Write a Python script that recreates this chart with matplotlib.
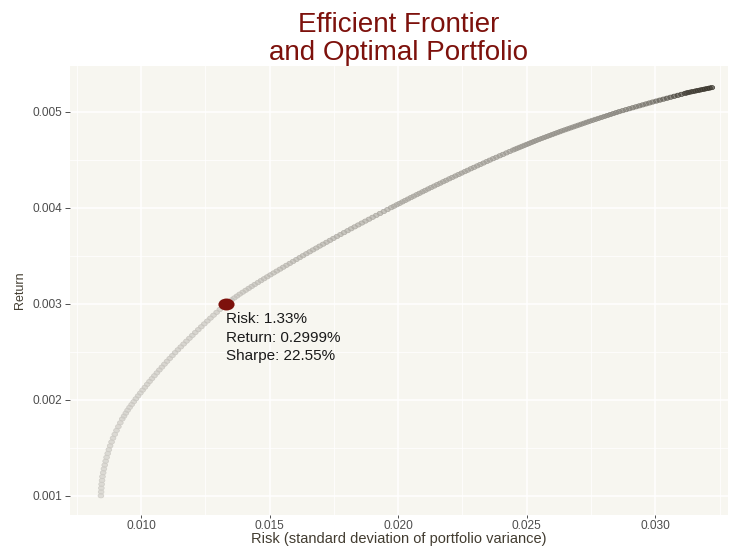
import numpy as np
from matplotlib import pyplot as plt
from matplotlib.colors import LinearSegmentedColormap, Normalize
from matplotlib.path import Path
from matplotlib.transforms import Affine2D
from matplotlib.ticker import FormatStrFormatter

EAL_RED = '#7D110C'
EAL_LIGHTTAN = '#F7F6F0'
EAL_DARK = '#423C30'

# efficient frontier (return, risk)
frontier_return = [
    0.00100, 0.00104, 0.00108, 0.00112, 0.00116, 0.00120, 0.00124, 0.00128, 0.00132, 0.00136,
    0.00140, 0.00144, 0.00148, 0.00152, 0.00156, 0.00160, 0.00164, 0.00168, 0.00172, 0.00176,
    0.00180,
    0.00183, 0.00186, 0.00189, 0.00192, 0.00195, 0.00198, 0.00201, 0.00204, 0.00207, 0.00210,
    0.00213, 0.00216, 0.00219, 0.00222, 0.00225, 0.00228, 0.00231, 0.00234, 0.00237, 0.00240,
    0.00243, 0.00246, 0.00249, 0.00252, 0.00255, 0.00258, 0.00261, 0.00264, 0.00267, 0.00270,
    0.00273, 0.00276, 0.00279, 0.00282, 0.00285, 0.00288, 0.00291, 0.00294, 0.00297, 0.00300,
    0.00302, 0.00304, 0.00306, 0.00308, 0.00310, 0.00312, 0.00314, 0.00316, 0.00318, 0.00320,
    0.00322, 0.00324, 0.00326, 0.00328, 0.00330, 0.00332, 0.00334, 0.00336, 0.00338, 0.00340,
    0.00342, 0.00344, 0.00346, 0.00348, 0.00350, 0.00352, 0.00354, 0.00356, 0.00358, 0.00360,
    0.00362, 0.00364, 0.00366, 0.00368, 0.00370, 0.00372, 0.00374, 0.00376, 0.00378, 0.00380,
    0.00382, 0.00384, 0.00386, 0.00388, 0.00390, 0.00392, 0.00394, 0.00396, 0.00398, 0.00400,
    0.004015, 0.004030, 0.004045, 0.004060, 0.004075, 0.004090, 0.004105, 0.004120, 0.004135, 0.004150,
    0.004165, 0.004180, 0.004195, 0.004210, 0.004225, 0.004240, 0.004255, 0.004270, 0.004285, 0.004300,
    0.004315, 0.004330, 0.004345, 0.004360, 0.004375, 0.004390, 0.004405, 0.004420, 0.004435, 0.004450,
    0.004465, 0.004480, 0.004495, 0.004510, 0.004525, 0.004540, 0.004555, 0.004570, 0.004585, 0.004600,
    0.00461, 0.00462, 0.00463, 0.00464, 0.00465, 0.00466, 0.00467, 0.00468, 0.00469, 0.00470,
    0.00471, 0.00472, 0.00473, 0.00474, 0.00475, 0.00476, 0.00477, 0.00478, 0.00479, 0.00480,
    0.00481, 0.00482, 0.00483, 0.00484, 0.00485, 0.00486, 0.00487, 0.00488, 0.00489, 0.00490,
    0.00491, 0.00492, 0.00493, 0.00494, 0.00495, 0.00496, 0.00497, 0.00498, 0.00499, 0.00500,
    0.00501, 0.00502, 0.00503, 0.00504, 0.00505, 0.00506, 0.00507, 0.00508, 0.00509, 0.00510,
    0.00511, 0.00512, 0.00513, 0.00514, 0.00515, 0.00516, 0.00517, 0.00518, 0.00519,
    0.005195, 0.005200, 0.005205, 0.005210, 0.005215, 0.005220, 0.005225, 0.005230, 0.005235, 0.005240,
    0.005245, 0.005250,
]
frontier_risk = [
    0.008440, 0.008448, 0.008456, 0.008468, 0.008484, 0.008500, 0.008528, 0.008556, 0.008588, 0.008624,
    0.008660, 0.008704, 0.008748, 0.008798, 0.008854, 0.008910, 0.008978, 0.009046, 0.009118, 0.009194,
    0.009270,
    0.009339, 0.009408, 0.009477, 0.009554, 0.009635, 0.009716, 0.009799, 0.009886, 0.009973, 0.010060,
    0.010150, 0.010240, 0.010330, 0.010424, 0.010520, 0.010616, 0.010713, 0.010812, 0.010911, 0.011010,
    0.011115, 0.011220, 0.011325, 0.011434, 0.011545, 0.011656, 0.011768, 0.011882, 0.011996, 0.012110,
    0.012227, 0.012344, 0.012461, 0.012580, 0.012700, 0.012820, 0.012941, 0.013064, 0.013187, 0.013310,
    0.013416, 0.013522, 0.013628, 0.013734, 0.013840, 0.013956, 0.014072, 0.014188, 0.014304, 0.014420,
    0.014542, 0.014664, 0.014786, 0.014908, 0.015030, 0.015156, 0.015281, 0.015407, 0.015532, 0.015658,
    0.015786, 0.015914, 0.016042, 0.016170, 0.016298, 0.016428, 0.016558, 0.016688, 0.016818, 0.016948,
    0.017082, 0.017216, 0.017350, 0.017484, 0.017618, 0.017756, 0.017894, 0.018032, 0.018170, 0.018308,
    0.018448, 0.018588, 0.018728, 0.018868, 0.019008, 0.019152, 0.019296, 0.019440, 0.019584, 0.019728,
    0.019838, 0.019947, 0.020057, 0.020166, 0.020276, 0.020385, 0.020496, 0.020608, 0.020721, 0.020833,
    0.020946, 0.021058, 0.021171, 0.021286, 0.021403, 0.021520, 0.021637, 0.021754, 0.021871, 0.021988,
    0.022108, 0.022228, 0.022348, 0.022468, 0.022588, 0.022708, 0.022829, 0.022952, 0.023075, 0.023198,
    0.023321, 0.023444, 0.023567, 0.023694, 0.023823, 0.023952, 0.024081, 0.024210, 0.024339, 0.024468,
    0.024559, 0.024650, 0.024741, 0.024832, 0.024923, 0.025014, 0.025105, 0.025196, 0.025287, 0.025378,
    0.025478, 0.025578, 0.025679, 0.025779, 0.025879, 0.025979, 0.026079, 0.026180, 0.026280, 0.026380,
    0.026487, 0.026594, 0.026701, 0.026808, 0.026915, 0.027022, 0.027129, 0.027236, 0.027343, 0.027450,
    0.027565, 0.027680, 0.027795, 0.027910, 0.028025, 0.028140, 0.028255, 0.028370, 0.028485, 0.028600,
    0.028730, 0.028860, 0.028990, 0.029120, 0.029250, 0.029380, 0.029510, 0.029640, 0.029770, 0.029900,
    0.030040, 0.030180, 0.030320, 0.030460, 0.030600, 0.030740, 0.030880, 0.031020, 0.031160,
    0.031230, 0.031300, 0.031390, 0.031480, 0.031570, 0.031660, 0.031750, 0.031840, 0.031930, 0.032020,
    0.032110, 0.032200,
]

optimal_risk = 0.0133
optimal_return = 0.002999
optimal_sharpe = 0.2255

x_ticks = [0.010, 0.015, 0.020, 0.025, 0.030]
x_minor = [0.0075, 0.0125, 0.0175, 0.0225, 0.0275, 0.0325]
y_ticks = [0.001, 0.002, 0.003, 0.004, 0.005]
y_minor = [0.0015, 0.0025, 0.0035, 0.0045]

plt.rcParams['font.family'] = 'Liberation Sans'

fig = plt.figure(figsize=(7.31, 5.48), dpi=100)
ax = fig.add_axes([70 / 731, 33 / 548, 658 / 731, 449 / 548])
ax.set_facecolor(EAL_LIGHTTAN)
for s in ax.spines.values():
    s.set_visible(False)

# slightly wide oval marker, like the original render
oval = Path.unit_circle().transformed(Affine2D().scale(1.35, 1.0))

shade = LinearSegmentedColormap.from_list('frontier', [
    (0.0, '#cfcdc7'), (0.47, '#c6c3bd'), (0.6, '#b4b1aa'), (0.82, '#a29f98'),
    (0.93, '#8d8a83'), (0.965, '#7a776f'), (0.985, '#4a463e'), (1.0, '#3b372e')])
norm = Normalize(min(frontier_return), max(frontier_return))
cols = shade(norm(np.array(frontier_return)))
face = cols.copy()
face[:, 3] = 0.65
ax.scatter(frontier_risk, frontier_return, s=17, marker=oval,
           facecolors=face, edgecolors=cols, linewidths=0.5, zorder=3)

ax.scatter([optimal_risk], [optimal_return], s=135, marker=oval,
           color=EAL_RED, linewidths=0, zorder=4)
label = 'Risk: {:.2f}%\nReturn: {:.4f}%\nSharpe: {:.2f}%'.format(
    optimal_risk * 100, optimal_return * 100, optimal_sharpe * 100)
ax.annotate(label, xy=(optimal_risk, optimal_return), xytext=(0, -6),
            textcoords='offset points', ha='left', va='top',
            fontsize=11, linespacing=1.4, color='#1a1a1a', zorder=5)

ax.set_xlim(0.007237, 0.03283)
ax.set_ylim(0.0008, 0.005475)
ax.set_xticks(x_ticks)
ax.set_xticks(x_minor, minor=True)
ax.set_yticks(y_ticks)
ax.set_yticks(y_minor, minor=True)
ax.xaxis.set_major_formatter(FormatStrFormatter('%.3f'))
ax.yaxis.set_major_formatter(FormatStrFormatter('%.3f'))
ax.grid(which='major', color='white', linewidth=1.1, zorder=0)
ax.grid(which='minor', color='white', linewidth=0.55, zorder=0)
ax.set_axisbelow(True)
ax.tick_params(which='minor', length=0)
ax.tick_params(axis='x', which='major', length=2.2, width=0.6, color='#333333',
               labelsize=8.6, labelcolor='#4D4D4D', pad=1.2)
ax.tick_params(axis='y', which='major', length=3.5, width=0.6, color='#333333',
               labelsize=8.6, labelcolor='#4D4D4D', pad=2)

ax.set_xlabel('Risk (standard deviation of portfolio variance)', fontsize=10.5,
              color=EAL_DARK, labelpad=0.5)
ax.set_ylabel('Return', fontsize=9, color=EAL_DARK, labelpad=5)

fig.text(399 / 731, 1 - 12 / 548, 'Efficient Frontier\nand Optimal Portfolio',
         ha='center', va='top', fontsize=20, color=EAL_RED, linespacing=1.12)

fig.savefig('out.png', dpi=100, facecolor='white')
